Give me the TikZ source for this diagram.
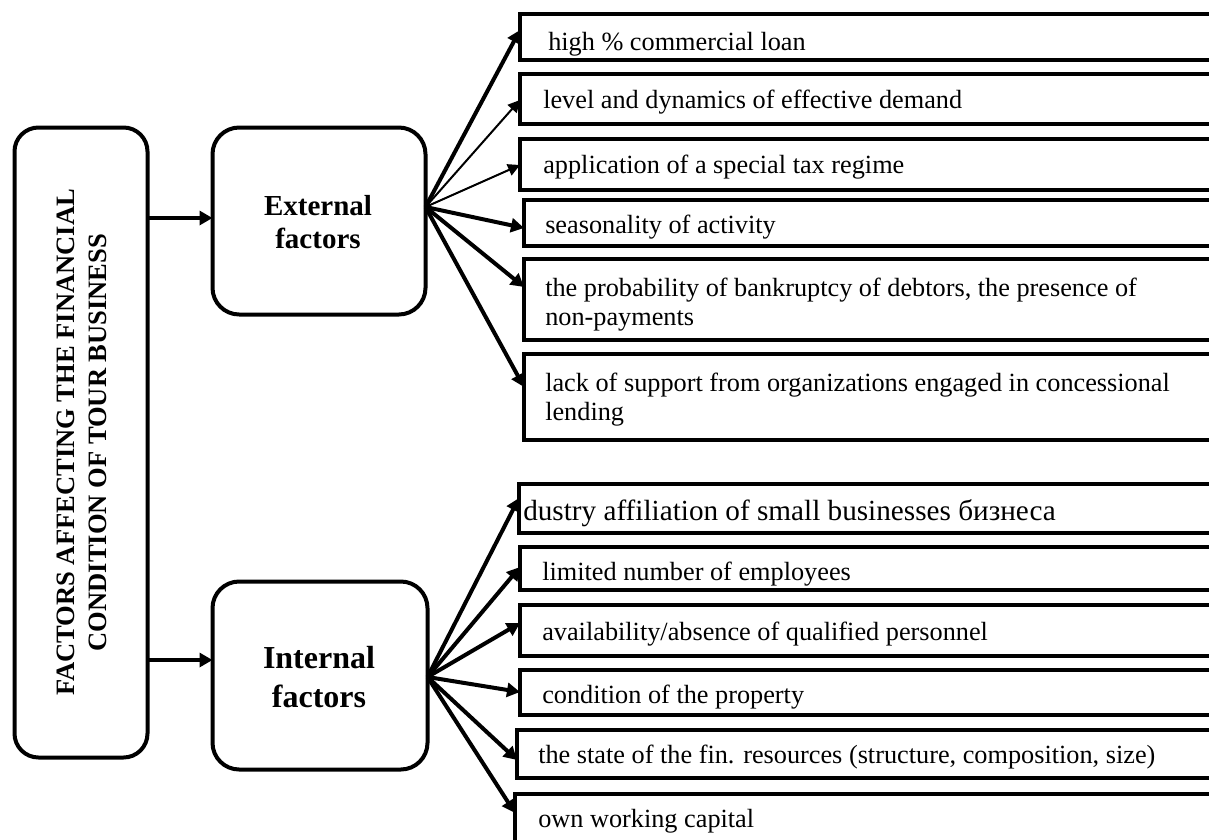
\documentclass[tikz,border=0pt]{standalone}
\usepackage{fontspec}
\setmainfont{Liberation Serif}
\usetikzlibrary{arrows.meta,fit}
\begin{document}
\begin{tikzpicture}[x=0.75pt,y=-0.75pt,
  rbox/.style={draw, line width=3pt, inner sep=0pt, outer sep=0pt},
  fbox/.style={rbox, rounded corners=20pt},
  itm/.style={inner sep=0pt, anchor=base west, font=\fontsize{19.7}{21.5}\selectfont, align=left},
  con/.style={line width=3pt, -{Triangle[length=9.75pt,width=10.5pt]}},
  thincon/.style={line width=1.5pt, -{Triangle[length=9pt,width=9pt]}}
]
\useasboundingbox (0,0) rectangle (1209,839);
\clip (0,0) rectangle (1209,839);
% main boxes
\node[fbox, rounded corners=18pt, fit={(14.5,127.5) (147.5,757.5)}] (lb) {};
\node[rotate=90, align=center, inner sep=0pt, font=\bfseries\fontsize{19.9}{24}\selectfont] (lbt) at (82,442.5) {FACTORS AFFECTING THE FINANCIAL\\CONDITION OF TOUR BUSINESS};
\node[fbox, fit={(212.5,127.5) (425.5,314.5)}] (ext) {};
\node[anchor=base, inner sep=0pt, align=center, font=\bfseries\fontsize{21.75}{24.75}\selectfont] (extt) at (318,248) {External\\factors};
\node[fbox, fit={(212.5,581.5) (427.5,769.5)}] (int) {};
\node[anchor=base, inner sep=0pt, align=center, font=\bfseries\fontsize{24}{29}\selectfont] (intt) at (319,707) {Internal\\factors};
% external factor boxes
\node[rbox, fit={(520,14) (1220,60)}] (e1) {};
\node[rbox, fit={(520,74) (1220,124)}] (e2) {};
\node[rbox, fit={(520,139) (1220,190)}] (e3) {};
\node[rbox, fit={(524,200) (1220,246)}] (e4) {};
\node[rbox, fit={(524,259) (1220,340)}] (e5) {};
\node[rbox, fit={(524,354) (1220,440)}] (e6) {};
\node[itm] (te1) at (548,50) {high \% commercial loan};
\node[itm] (te2) at (543,108) {level and dynamics of effective demand};
\node[itm] (te3) at (543,173) {application of a special tax regime};
\node[itm] (te4) at (545,233) {seasonality of activity};
\node[itm] (te5) at (545,325) {the probability of bankruptcy of debtors, the presence of\\non-payments};
\node[itm] (te6) at (545,420) {lack of support from organizations engaged in concessional\\lending};
% internal factor boxes
\node[rbox, fit={(519,484) (1220,533)}] (i1) {};
\node[rbox, fit={(520,547) (1220,590)}] (i2) {};
\node[rbox, fit={(520,605) (1220,656)}] (i3) {};
\node[rbox, fit={(520,670) (1220,715)}] (i4) {};
\node[rbox, fit={(517,730) (1220,778)}] (i5) {};
\node[rbox, fit={(515,794) (1220,870)}] (i6) {};
\node[itm, font=\fontsize{21.9}{24}\selectfont] (ti1) at (523,520) {dustry affiliation of small businesses бизнеса};
\node[itm] (ti2) at (542,580) {limited number of employees};
\node[itm] (ti3) at (542,640) {availability/absence of qualified personnel};
\node[itm] (ti4) at (542,703) {condition of the property};
\node[itm] (ti5) at (538,763) {the state of the fin. resources (structure, composition, size)};
\node[itm] (ti6) at (538,827) {own working capital};
% connectors
\draw[con] (lb.east |- 0,218) -- (ext.west |- 0,218);
\draw[con] (lb.east |- 0,660) -- (int.west |- 0,660);
\coordinate (eo) at (ext.east |- 0,207);
\draw[con] (eo) -- (e1.west |- 0,30);
\draw[thincon] (eo) -- (e2.west |- 0,100);
\draw[thincon] (eo) -- (e3.west |- 0,165);
\draw[con] (eo) -- (e4.west |- 0,228);
\draw[con] (eo) -- (e5.west |- 0,287);
\draw[con] (eo) -- (e6.west |- 0,387);
\coordinate (io) at (int.east |- 0,677);
\draw[con] (io) -- (i1.west |- 0,498);
\draw[con] (io) -- (i2.west |- 0,567);
\draw[con] (io) -- (i3.west |- 0,623);
\draw[con] (io) -- (i4.west |- 0,692);
\draw[con] (io) -- (i5.west |- 0,760);
\draw[con] (io) -- (i6.west |- 0,813);
\end{tikzpicture}
\end{document}
